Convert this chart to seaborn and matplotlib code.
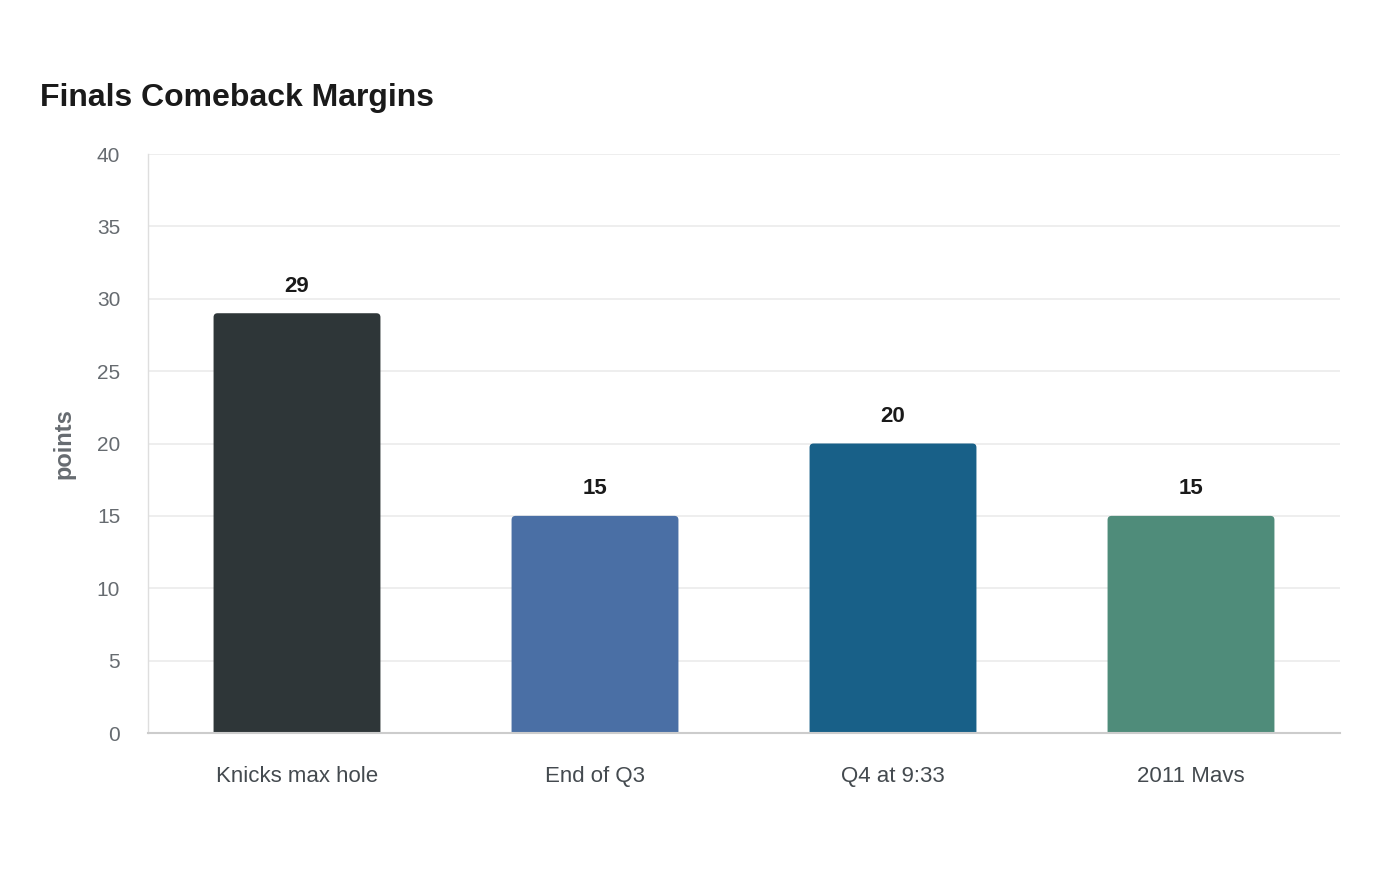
import matplotlib
matplotlib.use("Agg")
import matplotlib.pyplot as plt
from matplotlib.patches import FancyBboxPatch
import seaborn as sns
import pandas as pd

categories = ["Knicks max hole", "End of Q3", "Q4 at 9:33", "2011 Mavs"]
values = [29, 15, 20, 15]
colors = ["#2e3638", "#4a6fa5", "#186088", "#4f8c7a"]
yticks = [0, 5, 10, 15, 20, 25, 30, 35, 40]

sns.set_theme(style="white")
plt.rcParams["font.family"] = ["Liberation Sans", "DejaVu Sans"]

df = pd.DataFrame({"cat": categories, "val": values})

fig = plt.figure(figsize=(14, 8.8), dpi=100)
ax = fig.add_axes([148/1400, 1-733/880, (1340-148)/1400, (733-154)/880])

sns.barplot(data=df, x="cat", y="val", hue="cat", palette=colors, width=0.56,
            legend=False, ax=ax, saturation=1, zorder=3)

ax.set_ylim(0, 40)
ax.set_xlim(-0.5, 3.5)

# replace bars with rounded-top versions (same geometry)
rx = 4 / 298.0
ry = 4 / (579 / 40.0)
for p in list(ax.patches):
    x0, w, h = p.get_x(), p.get_width(), p.get_height()
    fc = p.get_facecolor()
    p.set_visible(False)
    fb = FancyBboxPatch((x0, -1), w, h + 1,
                        boxstyle=f"round,pad=0,rounding_size={rx}",
                        mutation_aspect=ry / rx, facecolor=fc, edgecolor="none",
                        zorder=3, clip_on=True)
    ax.add_patch(fb)
    fb.set_clip_path(ax.patch)

ax.set_yticks(yticks)
ax.yaxis.grid(True, color="#ebebeb", linewidth=1.2, zorder=0)
ax.set_axisbelow(True)
for s in ["top", "right"]:
    ax.spines[s].set_visible(False)
ax.spines["left"].set_color("#dedede")
ax.spines["left"].set_linewidth(1)
ax.spines["bottom"].set_color("#cccccc")
ax.spines["bottom"].set_linewidth(1.5)
ax.spines["bottom"].set_zorder(4)
ax.tick_params(axis="y", labelsize=15, labelcolor="#666b70", length=0, pad=20)
ax.tick_params(axis="x", labelsize=16, labelcolor="#444a4f", length=0, pad=23.5)
ax.set_xlabel("")
ax.set_ylabel("points", fontsize=17, fontweight="bold", color="#666b70")
ax.yaxis.set_label_coords(-0.0705, 0.5)
ax.yaxis.label.set_va("center")

for i, v in enumerate(values):
    ax.annotate(str(v), (i, v), xytext=(0, 12),
                textcoords="offset points", ha="center", va="bottom",
                fontsize=16, fontweight="bold", color="#1a1a1a")

fig.text(40/1400, 1-98/880, "Finals Comeback Margins", fontsize=23, fontweight="bold",
         color="#1a1a1a", ha="left", va="center")

fig.savefig("out.png", dpi=100, facecolor="white")
